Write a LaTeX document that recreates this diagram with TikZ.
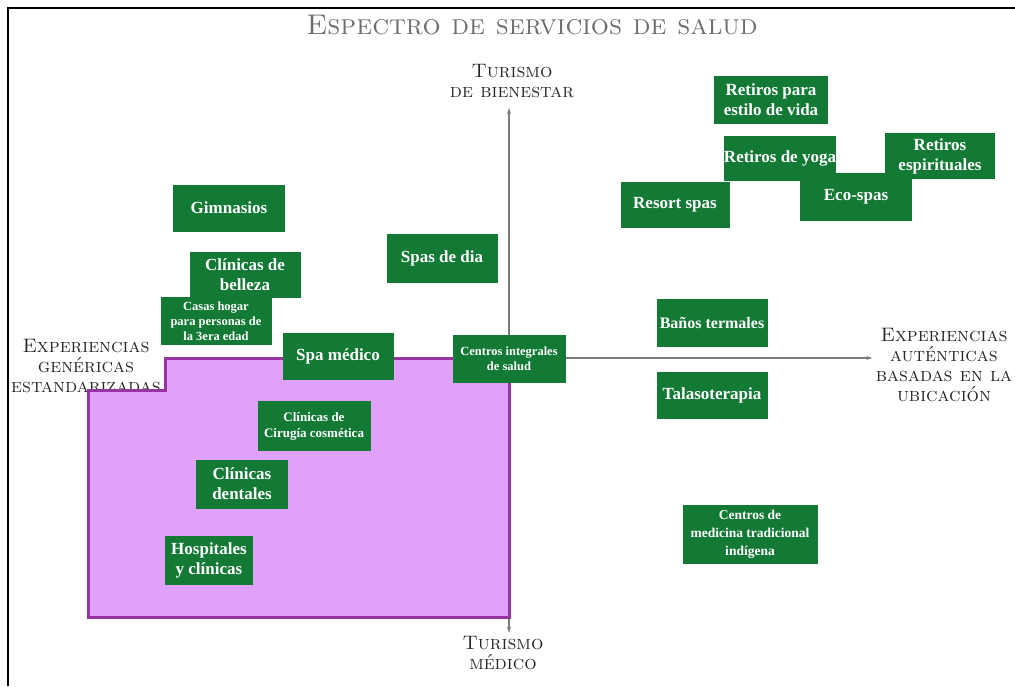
\documentclass[tikz,border=0pt]{standalone}
\usepackage{fontspec}
\usepackage{tikz}
\usetikzlibrary{arrows.meta}
\newfontfamily\cajafont{Liberation Serif}
\definecolor{verdecaja}{RGB}{18,122,52}
\definecolor{lila}{RGB}{224,162,248}
\definecolor{morado}{RGB}{152,52,160}
\definecolor{grisje}{RGB}{125,125,125}
\definecolor{gristit}{RGB}{110,110,110}

\begin{document}
\begin{tikzpicture}[x=1pt,y=-1pt,
	caja/.style={fill=verdecaja, text=white, align=center, inner sep=0pt,
		font=\cajafont\bfseries\fontsize{17}{20}\selectfont,
		minimum width=111pt, minimum height=47pt},
	cajachica/.style={caja, font=\cajafont\bfseries\fontsize{12.5}{15}\selectfont},
	etiqueta/.style={align=center, text=black!85, font=\scshape\fontsize{19.5}{20}\selectfont},
	eje/.style={draw=grisje, line width=1.2pt, -{Stealth[length=6pt,width=4pt]}}]
		\useasboundingbox (0,0) rectangle (1015,686);
		\draw[line width=2pt] (8,686) -- (8,8) -- (1015,8);
		\node[font=\scshape\fontsize{28.5}{30}\selectfont, text=gristit] (titulo) at (532,25) {Espectro de servicios de salud};
		% ejes
		\node[etiqueta] (bienestar) at (512,81) {Turismo\\de bienestar};
		\node[etiqueta] (medico) at (503,653) {Turismo\\médico};
		\node[etiqueta] (genericas) at (86,366) {Experiencias\\genéricas\\estandarizadas};
		\node[etiqueta] (autenticas) at (944,365) {Experiencias\\auténticas\\basadas en la\\ubicación};
		\coordinate (origen) at (509,358);
		\coordinate (izq) at (165,358);
		\draw[eje] (origen) -- (origen |- 0,108);
		\draw[eje] (origen) -- (medico.north -| origen);
		\draw[eje] (izq) -- (autenticas.west |- izq);
		% zona medica
		\draw[fill=lila, draw=morado, line width=3pt] (izq) -- (origen) -- (509,617) -- (88,617) -- (88,390) -- (165,390) -- cycle;
		% bienestar
		\node[caja, minimum width=114pt, minimum height=48pt] (retvida) at (771,100) {Retiros para\\estilo de vida};
		\node[caja, minimum height=45pt] (retyoga) at (780,158) {Retiros de yoga};
		\node[caja, minimum width=110pt, minimum height=46pt] (retesp) at (940,156) {Retiros\\espirituales};
		\node[caja, minimum width=109pt, minimum height=46pt] (resort) at (675,205) {Resort spas};
		\node[caja, minimum width=112pt, minimum height=48pt] (eco) at (856,197) {Eco-spas};
		\node[caja, minimum width=112pt] (gimnasios) at (229,208) {Gimnasios};
		\node[caja, minimum height=46pt] (belleza) at (245,275) {Clínicas de\\belleza};
		\node[cajachica, minimum height=48pt] (casas) at (216,321) {Casas hogar\\para personas de\\la 3era edad};
		\node[caja, minimum height=49pt] (spasdia) at (442,258) {Spas de dia};
		\node[caja] (spamedico) at (338,356) {Spa médico};
		\node[cajachica, minimum width=113pt, minimum height=48pt] (integrales) at (509,359) {Centros integrales\\de salud};
		\node[caja, minimum height=48pt, font=\cajafont\bfseries\fontsize{16}{20}\selectfont] (banos) at (712,323) {Baños termales};
		\node[caja] (talaso) at (712,395) {Talasoterapia};
		\node[cajachica, minimum width=135pt, minimum height=59pt, font=\cajafont\bfseries\fontsize{13.5}{18}\selectfont] (indigena) at (750,534) {Centros de\\medicina tradicional\\indígena};
		% medico
		\node[cajachica, minimum width=113pt, minimum height=50pt, font=\cajafont\bfseries\fontsize{13}{16}\selectfont] (cirugia) at (314,426) {Clínicas de\\Cirugía cosmética};
		\node[caja, minimum width=92pt, minimum height=49pt] (dentales) at (242,484) {Clínicas\\dentales};
		\node[caja, minimum width=88pt, minimum height=49pt] (hospitales) at (209,560) {Hospitales\\y clínicas};
	\end{tikzpicture}
\end{document}
